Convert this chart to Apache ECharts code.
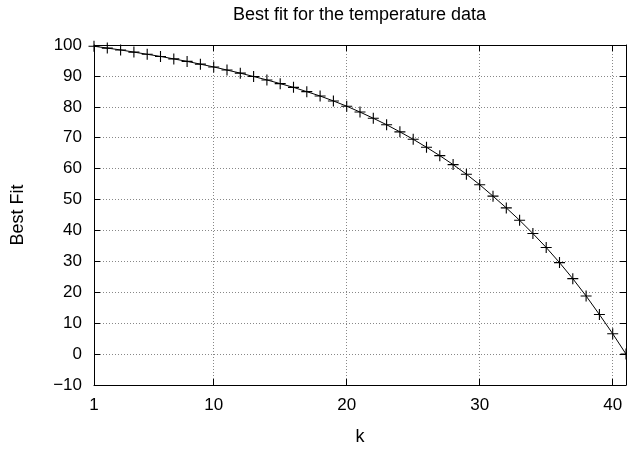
<!DOCTYPE html>
<html>
<head>
<meta charset="utf-8">
<script src="https://cdn.jsdelivr.net/npm/echarts@6/dist/echarts.min.js"></script>
<style>
  html, body { margin: 0; padding: 0; background: #fff; }
  #chart { width: 627px; height: 450px; }
</style>
</head>
<body>
<div id="chart"></div>
<script>
const kValues = [1, 2, 3, 4, 5, 6, 7, 8, 9, 10, 11, 12, 13, 14, 15, 16, 17, 18, 19, 20,
  21, 22, 23, 24, 25, 26, 27, 28, 29, 30, 31, 32, 33, 34, 35, 36, 37, 38, 39, 40, 41];
const bestFit = [99.6, 99.0, 98.4, 97.7, 97.0, 96.3, 95.5, 94.7, 93.8, 92.9,
  91.9, 90.9, 89.8, 88.7, 87.5, 86.3, 84.9, 83.5, 81.9, 80.2,
  78.3, 76.3, 74.2, 71.9, 69.5, 66.9, 64.2, 61.3, 58.2, 54.8,
  51.1, 47.3, 43.3, 39.0, 34.5, 29.6, 24.4, 18.8, 12.8, 6.6, 0.0];
const xTicks = [1, 10, 20, 30, 40];

const font = "'Liberation Sans', Arial, sans-serif";
const chart = echarts.init(document.getElementById('chart'));

const frameLine = { show: true, onZero: false, lineStyle: { color: '#000', width: 1 } };
const gridLine = { show: true, lineStyle: { color: '#888', type: [1, 2], width: 1 } };

const option = {
  animation: false,
  backgroundColor: '#fff',
  title: {
    text: 'Best fit for the temperature data',
    left: 233,
    top: 6,
    padding: 0,
    textStyle: { fontFamily: font, fontSize: 18, fontWeight: 'normal', color: '#000' },
  },
  grid: { left: 94, right: 1, top: 45, bottom: 65, outerBoundsMode: 'none' },
  xAxis: [{
    type: 'value',
    min: 1,
    max: 41,
    name: 'k',
    nameLocation: 'middle',
    nameGap: 43,
    nameTextStyle: { fontFamily: font, fontSize: 18, color: '#000' },
    axisLine: frameLine,
    axisTick: { show: true, inside: true, length: 6, customValues: xTicks, lineStyle: { color: '#000' } },
    axisLabel: { customValues: xTicks, fontFamily: font, fontSize: 17, color: '#000', margin: 12 },
    splitLine: gridLine,
  }, {
    type: 'value',
    position: 'top',
    min: 1,
    max: 41,
    axisLine: frameLine,
    axisTick: { show: true, inside: true, length: 6, customValues: xTicks, lineStyle: { color: '#000' } },
    axisLabel: { show: false },
    splitLine: { show: false },
  }],
  yAxis: [{
    type: 'value',
    min: -10,
    max: 100,
    interval: 10,
    name: 'Best Fit',
    nameLocation: 'middle',
    nameGap: 67,
    nameTextStyle: { fontFamily: font, fontSize: 18, color: '#000' },
    axisLine: frameLine,
    axisTick: { show: true, inside: true, length: 6, lineStyle: { color: '#000' } },
    axisLabel: {
      fontFamily: font, fontSize: 17, color: '#000', margin: 12,
      formatter: v => String(v).replace('-', '\u2212'),
    },
    splitLine: gridLine,
  }, {
    type: 'value',
    position: 'right',
    min: -10,
    max: 100,
    interval: 10,
    axisLine: frameLine,
    axisTick: { show: true, inside: true, length: 6, lineStyle: { color: '#000' } },
    axisLabel: { show: false },
    splitLine: { show: false },
  }],
  series: [{
    type: 'line',
    data: kValues.map((k, i) => [k, bestFit[i]]),
    symbol: 'path://M0,4.5H10V5.5H0Z M4.5,0H5.5V10H4.5Z',
    symbolSize: 11,
    itemStyle: { color: '#000', borderWidth: 0 },
    lineStyle: { color: '#000', width: 1 },
    clip: true,
  }],
};

chart.setOption(option);
</script>
</body>
</html>
